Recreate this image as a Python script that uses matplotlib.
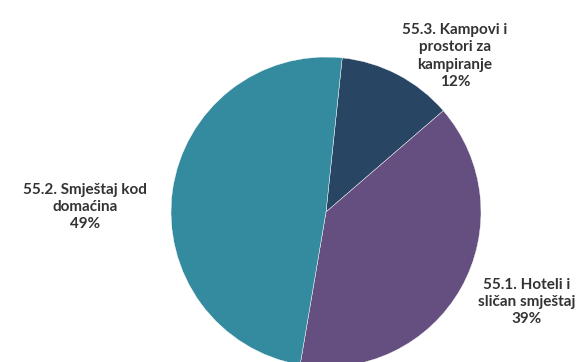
import matplotlib.pyplot as plt

labels = ['55.3. Kampovi i\nprostori za\nkampiranje', '55.1. Hoteli i\nsličan smještaj', '55.2. Smještaj kod\ndomaćina']
shares = [12, 39, 49]
colors = ['#284564', '#654F80', '#348A9E']

# label anchor points in pixel space (x, y from top)
label_pos = [(455, 56), (527, 302), (85, 207)]

W, H = 585, 362
fig = plt.figure(figsize=(W / 100, H / 100), dpi=100)
ax = fig.add_axes([0, 0, 1, 1])
ax.pie(shares, colors=colors, startangle=84, counterclock=False,
       center=(326, H - 212), radius=155,
       wedgeprops=dict(edgecolor='white', linewidth=0.3))
ax.set_xlim(0, W)
ax.set_ylim(0, H)
ax.set_aspect('equal')
ax.axis('off')

for lab, v, (px, py) in zip(labels, shares, label_pos):
    ax.text(px, H - py, f'{lab}\n{v}%', ha='center', va='center',
            fontsize=11, fontweight='bold', color='#333333',
            family=['Lato', 'DejaVu Sans'], linespacing=1.3)

fig.savefig('out.png', dpi=100)
